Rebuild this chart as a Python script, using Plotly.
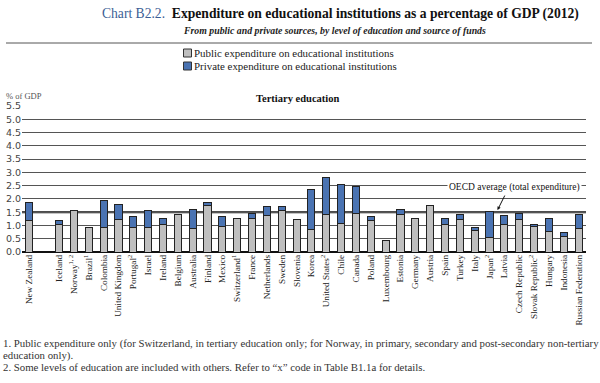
import plotly.graph_objects as go

countries = ["New Zealand", " ", "Iceland", "Norway<sup>1, 2</sup>", "Brazil<sup>1</sup>", "Colombia",
             "United Kingdom", "Portugal<sup>2</sup>", "Israel", "Ireland", "Belgium", "Australia",
             "Finland", "Mexico", "Switzerland<sup>1</sup>", "France", "Netherlands", "Sweden",
             "Slovenia", "Korea", "United States<sup>2</sup>", "Chile", "Canada", "Poland",
             "Luxembourg", "Estonia", "Germany", "Austria", "Spain", "Turkey", "Italy",
             "Japan<sup>2</sup>", "Latvia", "Czech Republic", "Slovak Republic<sup>2</sup>",
             "Hungary", "Indonesia", "Russian Federation"]
public = [1.20, None, 1.05, 1.58, 0.93, 0.93, 1.21, 0.93, 0.93, 1.03, 1.40, 0.87,
          1.76, 0.96, 1.25, 1.26, 1.36, 1.55, 1.22, 0.84, 1.41, 1.06, 1.46, 1.18,
          0.43, 1.42, 1.25, 1.74, 1.04, 1.22, 0.81, 0.54, 1.03, 1.21, 0.97,
          0.79, 0.57, 0.87]
private = [0.67, None, 0.13, 0.0, 0.0, 1.02, 0.58, 0.41, 0.64, 0.24, 0.0, 0.73,
           0.09, 0.38, 0.0, 0.20, 0.34, 0.15, 0.0, 1.51, 1.40, 1.47, 1.01, 0.16,
           0.0, 0.19, 0.0, 0.0, 0.22, 0.21, 0.12, 0.98, 0.35, 0.25, 0.08,
           0.47, 0.18, 0.53]
oecd_average = 1.5
y_ticks = [0.0, 0.5, 1.0, 1.5, 2.0, 2.5, 3.0, 3.5, 4.0, 4.5, 5.0, 5.5]

PUBLIC_COLOR = "#BFBFBF"
PRIVATE_COLOR = "#4A73B2"
SERIF = "Liberation Serif"

W, H = 600, 383
ML, MR, MT, MB = 22, 14, 106, 131
PH = H - MT - MB
PW = W - ML - MR


def py(p):
    return (H - MB - p) / PH


def px(p):
    return (p - ML) / PW


fig = go.Figure()
fig.add_trace(go.Bar(x=countries, y=public, name="Public expenditure on educational institutions",
                     marker=dict(color=PUBLIC_COLOR, line=dict(color="#222", width=1)),
                     width=0.48, showlegend=False))
fig.add_trace(go.Bar(x=countries, y=private, name="Private expenditure on educational institutions",
                     marker=dict(color=PRIVATE_COLOR, line=dict(color="#222", width=1)),
                     width=0.48, showlegend=False))

fig.add_shape(type="line", xref="paper", yref="y", x0=0, x1=1, y0=oecd_average, y1=oecd_average,
              line=dict(color="#111", width=2), layer="below")

ann = []
# title
ann.append(dict(xref="paper", yref="paper", x=px(340), y=py(14), xanchor="center", yanchor="middle",
                showarrow=False,
                text="<span style='color:#3B5E95'>Chart B2.2.</span>  <b>Expenditure on educational institutions as a percentage of GDP (2012)</b>",
                font=dict(family=SERIF, size=13.6, color="#111")))
ann.append(dict(xref="paper", yref="paper", x=px(334), y=py(31), xanchor="center", yanchor="middle",
                showarrow=False,
                text="<b><i>From public and private sources, by level of education and source of funds</i></b>",
                font=dict(family=SERIF, size=9.8, color="#222")))
# legend
for i, (nm, col) in enumerate([("Public expenditure on educational institutions", PUBLIC_COLOR),
                               ("Private expenditure on educational institutions", PRIVATE_COLOR)]):
    yc = 53 + i * 13
    fig.add_shape(type="rect", xref="paper", yref="paper", x0=px(183.5), x1=px(191.5),
                  y0=py(yc - 4), y1=py(yc + 4), fillcolor=col, line=dict(color="#333", width=1))
    ann.append(dict(xref="paper", yref="paper", x=px(192), y=py(yc), xanchor="left", yanchor="middle",
                    showarrow=False, text=nm, font=dict(family=SERIF, size=10.9, color="#222")))
fig.add_shape(type="line", xref="paper", yref="paper", x0=px(6), x1=px(592), y0=py(43), y1=py(43),
              line=dict(color="#555", width=1))
# panel title
ann.append(dict(xref="paper", yref="paper", x=px(297), y=py(98), xanchor="center", yanchor="middle",
                showarrow=False, text="<b>Tertiary education</b>",
                font=dict(family=SERIF, size=10.5, color="#111")))
ann.append(dict(xref="paper", yref="paper", x=px(4), y=py(96), xanchor="left", yanchor="middle",
                showarrow=False, text="% of GDP", font=dict(family=SERIF, size=8.5, color="#555")))
# OECD average label
ann.append(dict(xref="paper", yref="paper", x=px(514), y=py(187), xanchor="center", yanchor="middle",
                showarrow=False, text="OECD average (total expenditure)", bgcolor="white", borderpad=1,
                font=dict(family=SERIF, size=9.5, color="#111")))
ann.append(dict(xref="x", yref="y", x="Japan<sup>2</sup>", y=oecd_average + 0.08, xshift=8, text="",
                showarrow=True, arrowhead=2, arrowsize=0.7, arrowwidth=1, arrowcolor="#111",
                ax=8, ay=-16))
# footnotes
notes = ["1. Public expenditure only (for Switzerland, in tertiary education only; for Norway, in primary, secondary and post-secondary non-tertiary",
         "education only).",
         "2. Some levels of education are included with others. Refer to \u201cx\u201d code in Table B1.1a for details."]
for i, t in enumerate(notes):
    ann.append(dict(xref="paper", yref="paper", x=px(1), y=py(343 + i * 12), xanchor="left", yanchor="middle",
                    showarrow=False, text=t, font=dict(family=SERIF, size=10.8, color="#333")))

fig.update_layout(
    width=W, height=H, margin=dict(l=ML, r=MR, t=MT, b=MB, pad=0, autoexpand=False),
    barmode="stack", paper_bgcolor="white", plot_bgcolor="white",
    annotations=ann, showlegend=False,
    xaxis=dict(type="category", categoryorder="array", categoryarray=countries, automargin=False,
               tickangle=-90, tickfont=dict(family=SERIF, size=9.2, color="#222"),
               showgrid=False, showline=False, ticks="", range=[-0.5, len(countries) - 0.5]),
    yaxis=dict(range=[0, 5.5], tickvals=y_ticks, tickformat=".1f", showgrid=True, automargin=False,
               gridcolor="#555", gridwidth=1, zeroline=True, zerolinecolor="#111", zerolinewidth=1.5,
               tickfont=dict(family="DejaVu Sans", size=9.5, color="#444"), ticks="", ticklen=0),
)

fig.write_html("out.html", post_script="document.body.style.margin='0';",
               config={"displayModeBar": False})
